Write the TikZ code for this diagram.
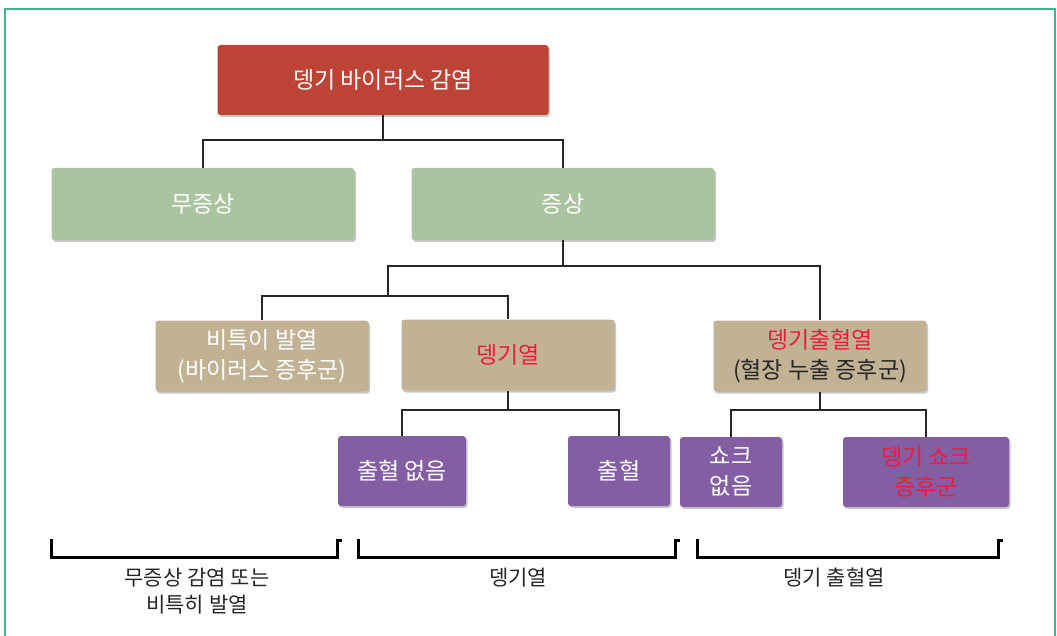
\documentclass[tikz,border=0pt]{standalone}
\usepackage{fontspec}
\setmainfont{Noto Sans CJK KR}
\usetikzlibrary{shadows}
\definecolor{boxred}{HTML}{BE4337}
\definecolor{boxgreen}{HTML}{AAC3A1}
\definecolor{boxtan}{HTML}{C1B293}
\definecolor{boxpurple}{HTML}{845EA3}
\definecolor{txtred}{HTML}{EE1C3A}
\definecolor{frameteal}{HTML}{3DB68A}
\definecolor{linegray}{HTML}{262626}
\definecolor{txtdark}{HTML}{262626}
\tikzset{
  boxbase/.style={rounded corners=3pt, inner sep=2pt, align=center, text=white,
    font=\fontsize{23}{30}\selectfont,
    drop shadow={shadow xshift=1.5pt, shadow yshift=-2pt, opacity=0.22, fill=black}},
  redbox/.style={boxbase, fill=boxred, minimum width=331pt, minimum height=70pt},
  greenbox/.style={boxbase, fill=boxgreen, minimum width=303pt, minimum height=72pt},
  tanbox/.style={boxbase, fill=boxtan, minimum width=213pt, minimum height=71pt},
  purplebox/.style={boxbase, fill=boxpurple, minimum height=70pt},
  conn/.style={draw=linegray, line width=1.5pt},
  bracketline/.style={draw=black, line width=3pt, line cap=rect},
  bracketlabel/.style={align=center, text=txtdark, font=\fontsize{21}{27}\selectfont},
}
\begin{document}
\begin{tikzpicture}[x=1pt, y=-1pt]
\useasboundingbox (0,0) rectangle (1057,636);
\fill[white] (0,0) rectangle (1057,636);
% frame
\draw[frameteal, line width=2.5pt] (5,640) -- (5,9) -- (1055,9) -- (1055,640);

% nodes
\node[redbox] (top) at (383,80) {뎅기 바이러스 감염};
\node[greenbox] (asym) at (203,204) {무증상};
\node[greenbox] (sym) at (563,204) {증상};
\node[tanbox] (nonspec) at (262,356) {비특이 발열\\(바이러스 증후군)};
\node[tanbox] (df) at (508,355) {\textcolor{txtred}{뎅기열}};
\node[tanbox] (dhf) at (820,356) {\textcolor{txtred}{뎅기출혈열}\\\textcolor{txtdark}{(혈장 누출 증후군)}};
\node[purplebox, minimum width=128pt] (nob) at (402,471) {출혈 없음};
\node[purplebox, minimum width=102pt] (bl) at (619,471) {출혈};
\node[purplebox, minimum width=102pt] (nosh) at (731,472) {쇼크\\없음};
\node[purplebox, minimum width=166pt] (dss) at (926,472) {\textcolor{txtred}{뎅기 쇼크}\\\textcolor{txtred}{증후군}};

% junctions
\coordinate (j1) at (383,140);
\coordinate (j2) at (563,266);
\coordinate (j3) at (388,296);
\coordinate (j4) at (508,410);
\coordinate (j5) at (820,410);

% connectors
\draw[conn] (top.south) -- (j1);
\draw[conn] (j1) -| (asym.north);
\draw[conn] (j1) -| (sym.north);
\draw[conn] (sym.south) -- (j2);
\draw[conn] (j2) -| (j3);
\draw[conn] (j2) -| (dhf.north);
\draw[conn] (j3) -| (nonspec.north);
\draw[conn] (j3) -| (df.north);
\draw[conn] (df.south) -- (j4);
\draw[conn] (j4) -| (nob.north);
\draw[conn] (j4) -| (bl.north);
\draw[conn] (dhf.south) -- (j5);
\draw[conn] (j5) -| (nosh.north);
\draw[conn] (j5) -| (dss.north);

% brackets
\draw[bracketline] (51,540) -- (51,557) -- (337,557) -- (337,540) -- (340,540);
\draw[bracketline] (358,540) -- (358,557) -- (675,557) -- (675,540) -- (678,540);
\draw[bracketline] (697,540) -- (697,557) -- (998,557) -- (998,540) -- (1001,540);

% bracket labels
\node[bracketlabel] (lab1) at (197,591) {무증상 감염 또는\\비특히 발열};
\node[bracketlabel] (lab2) at (518,578) {뎅기열};
\node[bracketlabel] (lab3) at (834,578) {뎅기 출혈열};
\end{tikzpicture}
\end{document}
